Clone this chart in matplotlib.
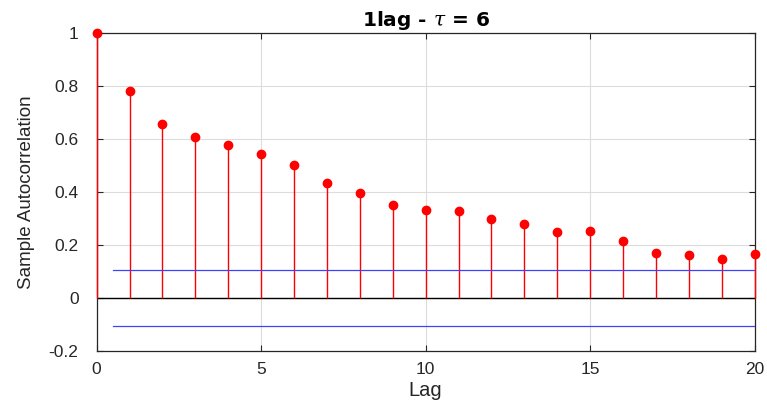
import matplotlib
matplotlib.use("Agg")
import matplotlib.pyplot as plt
import numpy as np

lags = np.arange(0, 21)
acf = [1.0, 0.781, 0.654, 0.605, 0.576, 0.542, 0.502, 0.434, 0.396, 0.350, 0.331,
       0.327, 0.297, 0.277, 0.247, 0.253, 0.213, 0.169, 0.160, 0.147, 0.166]
bound = 0.107
bound_lags = [0.5, 20]

plt.rcParams["font.family"] = ["Liberation Sans", "DejaVu Sans"]
plt.rcParams["mathtext.fontset"] = "dejavuserif"

fig = plt.figure(figsize=(7.67, 4.01), dpi=100)
ax = fig.add_axes([0.126, 0.1247, 0.858, 0.794])

ax.grid(True, color="#dcdcdc", linewidth=0.8, zorder=0)
ax.axhline(0, color="black", linewidth=1.0, zorder=2)
ax.vlines(lags, 0, acf, color="red", linewidth=1.0, zorder=3, clip_on=False)
ax.plot(lags, acf, "o", color="red", markersize=6, zorder=4, clip_on=False)
ax.plot(bound_lags, [bound, bound], color="#4040ff", linewidth=0.9, zorder=3)
ax.plot(bound_lags, [-bound, -bound], color="#4040ff", linewidth=0.9, zorder=3)

ax.set_xlim(0, 20)
ax.set_ylim(-0.2, 1.0)
ax.set_xticks([0, 5, 10, 15, 20])
ax.set_yticks([-0.2, 0, 0.2, 0.4, 0.6, 0.8, 1])
ax.set_yticklabels(["-0.2", "0", "0.2", "0.4", "0.6", "0.8", "1"])
ax.tick_params(direction="in", length=4, width=0.8, colors="#262626",
               labelsize=12.5, top=True, right=True)
ax.tick_params(axis="y", pad=13)
ax.tick_params(axis="x", pad=8)
for s in ax.spines.values():
    s.set_color("#262626")
    s.set_linewidth(0.9)

ax.set_xlabel("Lag", fontsize=14.5, color="#262626", labelpad=3)
ax.set_ylabel("Sample Autocorrelation", fontsize=13.5, color="#262626", labelpad=10)
ax.set_title(r"1lag - $\mathit{\tau}$ = 6", fontsize=14.5, fontweight="bold", pad=5,
             family=["DejaVu Sans"])

fig.savefig("out.png", dpi=100)
